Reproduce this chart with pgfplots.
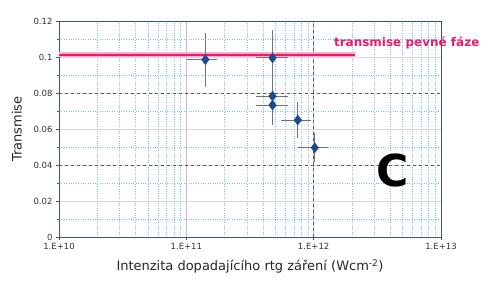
\documentclass[border=0pt]{standalone}
\usepackage{fontspec}
\setmainfont{DejaVu Sans}
\usepackage{pgfplots}
\pgfplotsset{compat=1.18}
\definecolor{pinkline}{RGB}{232,28,110}
\definecolor{ptblue}{RGB}{28,74,140}
\definecolor{gridcyan}{RGB}{110,200,225}
\definecolor{axcol}{RGB}{60,90,100}
\begin{document}
\begin{tikzpicture}
\begin{axis}[
  scale only axis,
  width=382pt, height=216pt,
  xmode=log, xmin=1e10, xmax=1e13,
  ymin=0, ymax=0.12,
  xtick={1e10,1e11,1e12,1e13},
  xticklabels={1.E+10,1.E+11,1.E+12,1.E+13},
  ytick={0,0.02,0.04,0.06,0.08,0.1,0.12},
  yticklabels={0,0.02,0.04,0.06,0.08,0.1,0.12},
  minor y tick num=1,
  tick align=outside,
  xtick pos=bottom, ytick pos=left,
  axis line style={axcol, line width=0.9pt},
  major tick style={axcol, line width=0.6pt},
  minor tick style={axcol, line width=0.5pt},
  minor x tick style={draw=none},
  major tick length=3pt, minor tick length=2pt,
  xmajorgrids, xminorgrids, ymajorgrids, yminorgrids,
  major x grid style={black!25, line width=0.6pt},
  major y grid style={black!15, line width=0.6pt},
  minor grid style={gridcyan, dotted, line width=0.7pt},
  extra y ticks={0.04,0.08},
  extra y tick labels={},
  extra y tick style={grid=major, major y grid style={black!65, dashed, line width=0.6pt}},
  extra x ticks={1e12},
  extra x tick labels={},
  extra x tick style={grid=major, major x grid style={black!65, dashed, line width=0.6pt}},
  ticklabel style={font=\fontsize{8.5}{9}\selectfont, text=black!80},
  xlabel={Intenzita dopadajícího rtg záření (Wcm\textsuperscript{-2})},
  ylabel={Transmise},
  label style={font=\fontsize{13}{15}\selectfont, text=black!85},
  xlabel style={yshift=3pt},
  ylabel style={yshift=-1pt},
  clip=false,
]
\addplot[pinkline!35, line width=5pt, forget plot] coordinates {(1e10,0.1012) (2.1e12,0.1012)};
\addplot[pinkline, line width=2.2pt, forget plot] coordinates {(1e10,0.1012) (2.1e12,0.1012)};
\addplot[only marks, mark=diamond*, mark size=5pt,
  mark options={fill=ptblue, draw=ptblue},
  error bars/.cd, x dir=both, x explicit, y dir=both, y explicit,
  error bar style={black!55, line width=0.9pt},
  error mark options={rotate=90, mark size=0pt}]
coordinates {
  (1.41e11,0.0985) += (0.34e11,0.015) -= (0.39e11,0.015)
  (4.75e11,0.0995) += (1.55e11,0.0155) -= (1.2e11,0.0155)
  (4.75e11,0.0783) += (1.55e11,0.008) -= (1.2e11,0.008)
  (4.75e11,0.0733) += (1.55e11,0.011) -= (1.2e11,0.011)
  (7.5e11,0.065) += (1.96e11,0.0102) -= (1.93e11,0.0102)
  (1.02e12,0.0496) += (0.27e12,0.008) -= (0.27e12,0.008)
};
\node[font=\bfseries\fontsize{12}{14}\selectfont, text=pinkline, anchor=west, inner sep=0pt] at (axis cs:1.44e12,0.1078) {transmise pevné fáze};
\node[font=\bfseries\fontsize{44}{46}\selectfont] at (axis cs:4.2e12,0.037) {C};
\coordinate (bl) at (rel axis cs:0,0);
\coordinate (tr) at (rel axis cs:1,1);
\end{axis}
\useasboundingbox ([shift={(-59pt,-46pt)}]bl) rectangle ([shift={(56pt,21pt)}]tr);
\end{tikzpicture}
\end{document}
